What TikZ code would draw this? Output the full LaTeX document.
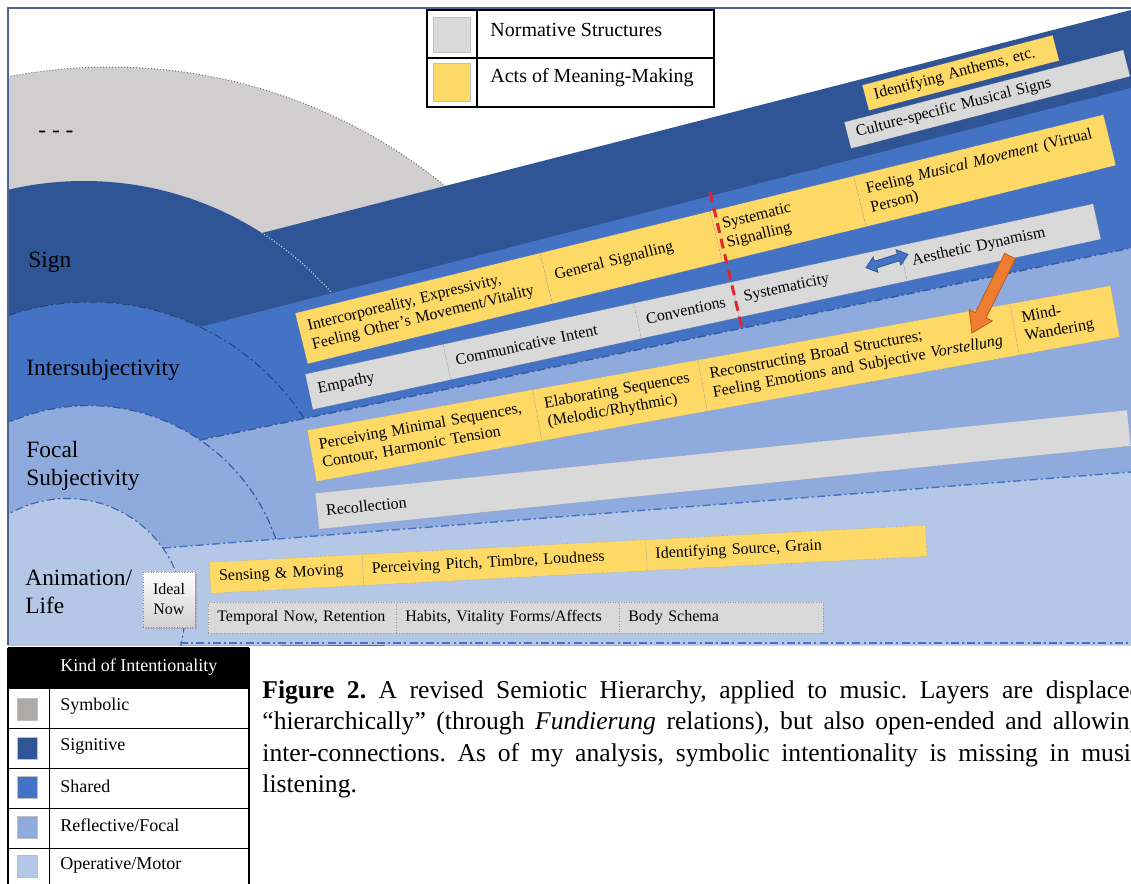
\documentclass[tikz,border=0pt]{standalone}
\usepackage{fontspec}
\setmainfont{Liberation Serif}
\usetikzlibrary{shadows}
\frenchspacing
\definecolor{cSym}{HTML}{D0CECE}
\definecolor{cSymSw}{HTML}{AEAAAA}
\definecolor{cSig}{HTML}{2F5597}
\definecolor{cSha}{HTML}{4472C4}
\definecolor{cFoc}{HTML}{8FAADC}
\definecolor{cOpe}{HTML}{B4C7E7}
\definecolor{cYel}{HTML}{FFD966}
\definecolor{cGry}{HTML}{D9D9D9}
\definecolor{cOrg}{HTML}{ED7D31}
\definecolor{cOrgD}{HTML}{C55A11}
\definecolor{cFrame}{HTML}{4A6491}
\definecolor{cRed}{HTML}{E3262B}
\begin{document}
\begin{tikzpicture}[x=0.5pt,y=-0.5pt,
  cellbase/.style={anchor=north west, draw=black!40, densely dotted, line width=0.3pt,
    inner xsep=4.5pt, inner ysep=0pt, align=left, font=\fontsize{8}{9.5}\selectfont, text=black},
  yel/.style={cellbase, fill=cYel},
  gry/.style={cellbase, fill=cGry},
  lbl/.style={anchor=west, inner sep=0pt, align=left, font=\fontsize{11.7}{14.3}\selectfont},
  dashdot/.style={line width=0.7pt, dash pattern=on 4pt off 1.6pt on 1pt off 1.6pt},
  legtxt/.style={anchor=west, inner sep=0pt, font=\fontsize{9}{11}\selectfont},
  toptxt/.style={anchor=west, inner sep=0pt, font=\fontsize{10}{12}\selectfont},
  swatch/.style={draw=black!25, line width=0.3pt, inner sep=0pt},
  capline/.style={anchor=base west, inner sep=0pt, font=\fontsize{12.8}{15}\selectfont}]
\useasboundingbox (0,0) rectangle (1131,884);

% ---------------- layered background ----------------
\begin{scope}
\clip (8,8) rectangle (1131,645);
\fill[white] (8,8) rectangle (1131,645);
% symbolic dome
\fill[cSym] (110,598) circle[radius=265.5pt];
\draw[black!55, densely dotted, line width=0.5pt] (110,598) circle[radius=265.5pt];
% signitive
\fill[cSig] (84,511) circle[radius=165pt];
\fill[cSig] (262,233) -- (1131,10) -- (1131,645) -- (262,645) -- cycle;
\begin{scope}
\clip (262,0) rectangle (1131,645);
\draw[white!85!cSig, densely dotted, line width=0.5pt] (84,511) circle[radius=165pt];
\end{scope}
% shared
\fill[cSha] (90,557) circle[radius=127.5pt];
\fill[cSha] (200,327) -- (1131,88) -- (1131,645) -- (200,645) -- cycle;
\draw[cSig!80!black, dashdot, line width=0.5pt] (90,557) circle[radius=127.5pt];
% focal
\fill[cFoc] (88.6,603.6) circle[radius=99pt];
\fill[cFoc] (200,440) -- (1131,248) -- (1131,645) -- (200,645) -- cycle;
\draw[cSig, dashdot, line width=0.55pt] (88.6,603.6) circle[radius=99pt];
\draw[cSig!80!cSha, dashdot] (200,440) -- (1131,248);
% operative
\fill[cOpe] (67,616) circle[radius=58.75pt];
\fill[cOpe] (163,548) -- (1131,472) -- (1131,645) -- (163,645) -- cycle;
\draw[cSha!85!black, dashdot, line width=0.55pt] (67,616) circle[radius=58.75pt];
\draw[cSha, dashdot] (163,548) -- (1131,472);
\draw[cSha, dashdot] (180,643) -- (1131,643);
\end{scope}
\draw[cFrame, line width=0.6pt] (1131,8) -- (8,8) -- (8,645);

% ---------------- layer labels ----------------
\node[lbl] (ldots) at (38,134) {- - -};
\node[lbl] (lsign) at (28,262) {Sign};
\node[lbl] (linter) at (26,370) {Intersubjectivity};
\node[lbl] (lfocal) at (26,466) {Focal\\Subjectivity};
\node[lbl] (lanim) at (25,592) {Animation/\\Life};

\node[draw=black!45, densely dotted, line width=0.3pt, top color=white, bottom color=black!18,
  minimum width=26pt, minimum height=27.5pt, inner sep=0pt, align=center,
  font=\fontsize{8}{10}\selectfont,
  drop shadow={opacity=0.35, shadow xshift=1.2pt, shadow yshift=-1.2pt}] (ideal) at (169,599.5) {Ideal\\Now};

% ---------------- Sign band ----------------
\begin{scope}[shift={(862,85)}, rotate=14.7, transform shape]
\node[yel, text width=89.3pt, minimum height=13pt] (a1) at (0,0) {Identifying Anthems, etc.};
\end{scope}
\begin{scope}[shift={(844,122)}, rotate=14.5, transform shape]
\node[gry, text width=135pt, minimum height=13.5pt] (a2) at (0,0) {Culture-specific Musical Signs};
\end{scope}

% ---------------- Shared band ----------------
\begin{scope}[shift={(295,313)}, rotate=13.8, transform shape]
\node[yel, text width=117pt, minimum height=26pt] (b1a) at (0,0) {\mbox{Intercorporeality, Expressivity,}\\\mbox{Feeling Other’s Movement/Vitality}};
\node[yel, text width=78.5pt, minimum height=26pt] (b1b) at (252,0) {General Signalling};
\node[yel, text width=65pt, minimum height=26pt] (b1c) at (427,0) {Systematic\\Signalling};
\node[yel, text width=119.5pt, minimum height=26pt] (b1d) at (575,0) {\mbox{Feeling \textit{Musical Movement} (Virtual}\\Person)};
\end{scope}
\begin{scope}[shift={(305,374)}, rotate=12.2, transform shape]
\node[gry, text width=61.5pt, minimum height=18pt] (b2a) at (0,0) {Empathy};
\node[gry, text width=88.5pt, minimum height=18pt] (b2b) at (141,0) {Communicative Intent};
\node[gry, text width=41pt, minimum height=18pt] (b2c) at (336,0) {Conventions};
\node[gry, text width=77pt, minimum height=18pt] (b2d) at (436,0) {Systematicity};
\node[gry, text width=90pt, minimum height=18pt] (b2e) at (608,0) {Aesthetic Dynamism};
\end{scope}

% ---------------- Focal band ----------------
\begin{scope}[shift={(307,430)}, rotate=10.2, transform shape]
\node[yel, text width=105.5pt, minimum height=26pt] (c1a) at (0,0) {\mbox{Perceiving Minimal Sequences,}\\\mbox{Contour, Harmonic Tension}};
\node[yel, text width=75pt, minimum height=26pt] (c1b) at (229,0) {\mbox{Elaborating Sequences}\\(Melodic/Rhythmic)};
\node[yel, text width=149.5pt, minimum height=26pt] (c1c) at (397,0) {\mbox{Reconstructing Broad Structures;}\\\mbox{Feeling Emotions and Subjective \textit{Vorstellung}}};
\node[yel, text width=42pt, minimum height=26pt] (c1d) at (714,0) {Mind-\\Wandering};
\end{scope}
\begin{scope}[shift={(315,493)}, rotate=5.85, transform shape]
\node[gry, text width=399pt, minimum height=18pt] (c2) at (0,0) {Recollection};
\end{scope}

% ---------------- Operative band ----------------
\begin{scope}[shift={(209,562)}, rotate=2.96, transform shape]
\node[yel, text width=67.5pt, minimum height=15.5pt] (d1a) at (0,0) {Sensing \& Moving};
\node[yel, text width=133pt, minimum height=15.5pt] (d1b) at (153,0) {Perceiving Pitch, Timbre, Loudness};
\node[yel, text width=131pt, minimum height=15.5pt] (d1c) at (437,0) {Identifying Source, Grain};
\end{scope}
\begin{scope}[shift={(208,602)}]
\node[gry, text width=85pt, minimum height=15.5pt] (d2a) at (0,0) {Temporal Now, Retention};
\node[gry, text width=102.5pt, minimum height=15.5pt] (d2b) at (188,0) {Habits, Vitality Forms/Affects};
\node[gry, text width=93pt, minimum height=15.5pt] (d2c) at (411,0) {Body Schema};
\end{scope}

% ---------------- separators and arrows ----------------
\coordinate (redtop) at (710,192);
\coordinate (redbot) at (742,328);
\draw[cRed, line width=1.5pt, dash pattern=on 5pt off 3pt] (redtop) -- (redbot);

\begin{scope}[shift={(887,261)}, rotate=17.6]
\filldraw[fill=cSha, draw=cSig, line width=0.4pt]
  (-22,0) -- (-12,-8) -- (-12,-3.5) -- (12,-3.5) -- (12,-8) -- (22,0)
  -- (12,8) -- (12,3.5) -- (-12,3.5) -- (-12,8) -- cycle;
\end{scope}

\begin{scope}[shift={(1010,256)}, rotate=243.7]
\filldraw[fill=cOrg, draw=cOrgD, line width=0.4pt]
  (0,-6) -- (66,-6) -- (66,-13) -- (86,0) -- (66,13) -- (66,6) -- (0,6) -- cycle;
\end{scope}

% ---------------- top legend ----------------
\draw[fill=white, line width=0.6pt] (427,10) rectangle (714,107);
\draw[line width=0.6pt] (427,58) -- (714,58);
\draw[line width=0.6pt] (477,10) -- (477,107);
\node[swatch, fill=cGry, minimum width=18.5pt, minimum height=17.5pt] (swN) at (451.5,34.5) {};
\node[swatch, fill=cYel, minimum width=18.5pt, minimum height=19pt] (swA) at (451.5,82) {};
\node[toptxt] (tN) at (490,30) {Normative Structures};
\node[toptxt] (tA) at (490,78) {Acts of Meaning-Making};

% ---------------- bottom legend ----------------
\fill[black] (8,648) rectangle (249,688);
\draw[line width=0.6pt] (8,648) -- (249,648);
\draw[line width=0.6pt] (8,648) -- (8,890);
\draw[line width=0.6pt] (249,648) -- (249,890);
\draw[line width=0.5pt] (49,688) -- (49,890);
\foreach \yy in {688,728,768,808,848} { \draw[line width=0.5pt] (8,\yy) -- (249,\yy); }
\node[legtxt, text=white] (kHead) at (60,667) {Kind of Intentionality};
\node[swatch, fill=cSymSw, minimum width=10pt, minimum height=11pt] (k1s) at (27,709) {};
\node[swatch, fill=cSig, minimum width=10pt, minimum height=11pt] (k2s) at (27,748) {};
\node[swatch, fill=cSha, minimum width=10pt, minimum height=11pt] (k3s) at (27,787) {};
\node[swatch, fill=cFoc, minimum width=10pt, minimum height=11pt] (k4s) at (27,827) {};
\node[swatch, fill=cOpe, minimum width=10pt, minimum height=11pt] (k5s) at (27,866) {};
\node[legtxt] (k1) at (60,706) {Symbolic};
\node[legtxt] (k2) at (60,746) {Signitive};
\node[legtxt] (k3) at (60,786) {Shared};
\node[legtxt] (k4) at (60,825) {Reflective/Focal};
\node[legtxt] (k5) at (60,865) {Operative/Motor};

% ---------------- caption (justified, running past the right edge) ----------------
\node[capline] (cap1) at (262,698) {\makebox[440pt][s]{\textbf{Figure 2.} A revised Semiotic Hierarchy, applied to music. Layers are displaced}};
\node[capline] (cap2) at (262,729.5) {\makebox[440pt][s]{“hierarchically” (through \textit{Fundierung} relations), but also open-ended and allowing}};
\node[capline] (cap3) at (262,761) {\makebox[440pt][s]{inter-connections. As of my analysis, symbolic intentionality is missing in music}};
\node[capline] (cap4) at (262,792.5) {listening.};
\end{tikzpicture}
\end{document}
